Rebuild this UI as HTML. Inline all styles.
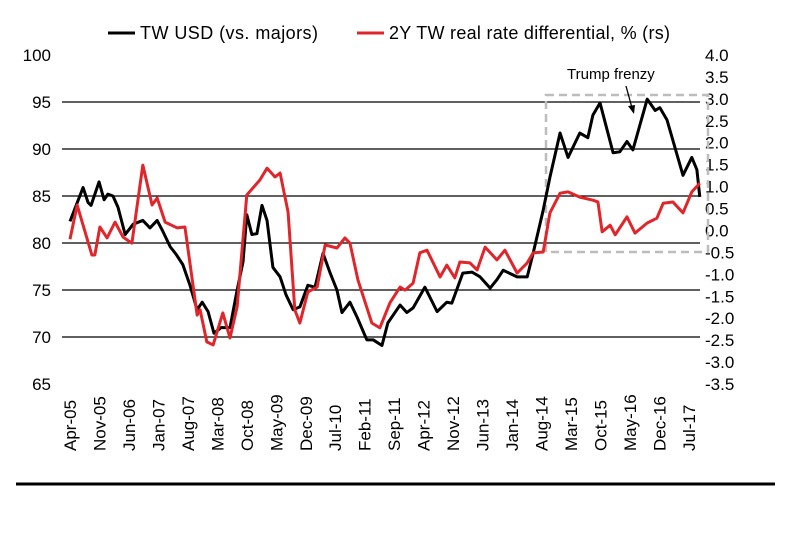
<!DOCTYPE html>
<html><head><meta charset="utf-8"><style>
body{margin:0;background:#fff;width:791px;height:540px;overflow:hidden;font-family:"Liberation Sans",sans-serif}
</style></head><body>
<svg id="chart" width="791" height="540" xmlns="http://www.w3.org/2000/svg" font-family="Liberation Sans, sans-serif">
<g>
<line x1="108" y1="33" x2="135" y2="33" stroke="#000" stroke-width="3"/>
<text x="140" y="39" font-size="18" textLength="178">TW USD (vs. majors)</text>
<line x1="357" y1="33" x2="384" y2="33" stroke="#e0262b" stroke-width="3"/>
<text x="389" y="39" font-size="18" textLength="281">2Y TW real rate differential, % (rs)</text>
</g>
<g id="grid"></g><g id="ylab"></g><g id="y2lab"></g><g id="xlab"></g>
<rect x="546" y="95" width="162" height="157" fill="none" stroke="#bdbdbd" stroke-width="2.5" stroke-dasharray="8,5"/>
<text x="567" y="79" font-size="15">Trump frenzy</text>
<line x1="626" y1="86" x2="632" y2="108" stroke="#000" stroke-width="1.3"/>
<polygon points="634,114 628,106 635,105" fill="#000"/>
<g id="series"></g>
<line x1="16" y1="484" x2="775" y2="484" stroke="#000" stroke-width="3"/>
</svg>
<script>
const usdMonths=[0,3.1,4.3,5,6.9,8.1,9,10.2,11.4,13.1,15,17.3,19,20.7,22.1,23.8,25.2,26.8,28.5,30.2,31.4,32.8,34.2,35.9,38,39.7,41.1,42,43.2,44.4,45.6,46.8,48.2,49.9,51.3,53,54.6,56.5,58.2,60.1,61.8,63.4,64.6,66.5,68.2,70.5,72,74.1,75.5,78.4,80,81.5,84.3,87.2,89.5,90.7,93.3,95.5,97.4,99.8,101.4,102.9,106.2,108.6,110,112.4,114,116.4,118.3,121.1,123,124.2,125.9,129,130.6,132.3,133.7,137.1,139,140.1,141.8,145.6,147.7,148.9,149.6];
const usdValues=[82.3,85.9,84.3,84,86.5,84.6,85.2,85,83.8,80.9,82,82.4,81.6,82.4,81.2,79.6,78.8,77.7,75.5,72.9,73.7,72.7,70.4,71,71,75,78,83,80.9,81,84,82.4,77.4,76.4,74.5,72.9,73.2,75.5,75.3,78.9,76.8,75,72.6,73.7,72.1,69.7,69.7,69.1,71.5,73.4,72.6,73.1,75.3,72.7,73.7,73.6,76.8,76.9,76.4,75.2,76.1,77.1,76.4,76.4,78.9,83.5,87,91.7,89.1,91.7,91.2,93.6,94.9,89.6,89.7,90.8,89.9,95.3,94.1,94.4,93.1,87.2,89.1,87.8,84.9];
const rateMonths=[0,1.7,5.2,5.9,7.1,8.8,10.7,12.6,14.7,17.3,19.5,20.7,22.6,25.4,27.3,30.2,30.9,32.5,34,36.3,38,39.7,42,45.1,46.8,48.7,49.9,51.8,53.4,54.6,56.5,58.7,60.6,63.4,65.3,66.5,68.4,71.7,73.6,76,78.4,79.6,81.5,83.1,84.8,87.9,89.5,91.4,92.6,95,96.7,98.6,101.4,103.3,106.2,108.6,110,112.4,114,116.4,118.3,121.1,124.2,125.4,126.4,128.3,129.5,132.3,134.2,137.1,139.4,140.9,143.2,145.6,147.7,149.6];
const rateValues=[-0.2,0.58,-0.56,-0.56,0.08,-0.17,0.19,-0.15,-0.29,1.49,0.58,0.74,0.19,0.06,0.08,-1.93,-1.81,-2.54,-2.61,-1.88,-2.45,-1.74,0.81,1.15,1.42,1.22,1.31,0.42,-1.81,-2.11,-1.4,-1.29,-0.33,-0.4,-0.17,-0.29,-1.13,-2.11,-2.22,-1.65,-1.29,-1.36,-1.2,-0.51,-0.45,-1.06,-0.79,-1.08,-0.72,-0.74,-0.9,-0.38,-0.67,-0.45,-0.97,-0.74,-0.51,-0.49,0.4,0.85,0.88,0.76,0.69,0.65,-0.03,0.12,-0.1,0.31,-0.06,0.17,0.28,0.62,0.65,0.4,0.88,1.08];
const leftTicks=[100,95,90,85,80,75,70,65];
const rightTicks=["4.0","3.5","3.0","2.5","2.0","1.5","1.0","0.5","0.0","-0.5","-1.0","-1.5","-2.0","-2.5","-3.0","-3.5"];
const xTickLabels=["Apr-05","Nov-05","Jun-06","Jan-07","Aug-07","Mar-08","Oct-08","May-09","Dec-09","Jul-10","Feb-11","Sep-11","Apr-12","Nov-12","Jun-13","Jan-14","Aug-14","Mar-15","Oct-15","May-16","Dec-16","Jul-17"];
const NS="http://www.w3.org/2000/svg";
const X=m=>70+m*4.21;
const Y=v=>55+(100-v)*(329/35);
const Y2=v=>55+(4-v)*(329/7.5);
function mk(tag,attrs,parent){const e=document.createElementNS(NS,tag);for(const k in attrs)e.setAttribute(k,attrs[k]);document.getElementById(parent).appendChild(e);return e;}
leftTicks.forEach(v=>{
  if(v<100&&v>65){const g=mk('line',{x1:62,x2:700,y1:Y(v),y2:Y(v),stroke:'#000','stroke-width':1.3},'grid');
  
  }
  const t=mk('text',{x:51,y:Y(v)+6,'text-anchor':'end','font-size':17},'ylab');t.textContent=v;
  
  
});
rightTicks.forEach(s=>{
  const t=mk('text',{x:705,y:Y2(parseFloat(s))+6,'font-size':17},'y2lab');t.textContent=s;
  
  
});
xTickLabels.forEach((s,i)=>{
  const x=X(i*7)+6,y=451;
  const t=mk('text',{x:x,y:y,'font-size':17,transform:`rotate(-90 ${x} ${y})`},'xlab');t.textContent=s;
  
  
});
const pUsd=mk('polyline',{points:usdMonths.map((m,i)=>X(m)+','+Y(usdValues[i])).join(' '),fill:'none',stroke:'#000','stroke-width':3,'stroke-linejoin':'round'},'series');


const pRate=mk('polyline',{points:rateMonths.map((m,i)=>X(m)+','+Y2(rateValues[i])).join(' '),fill:'none',stroke:'#e0262b','stroke-width':3,'stroke-linejoin':'round'},'series');


</script>
</body></html>
